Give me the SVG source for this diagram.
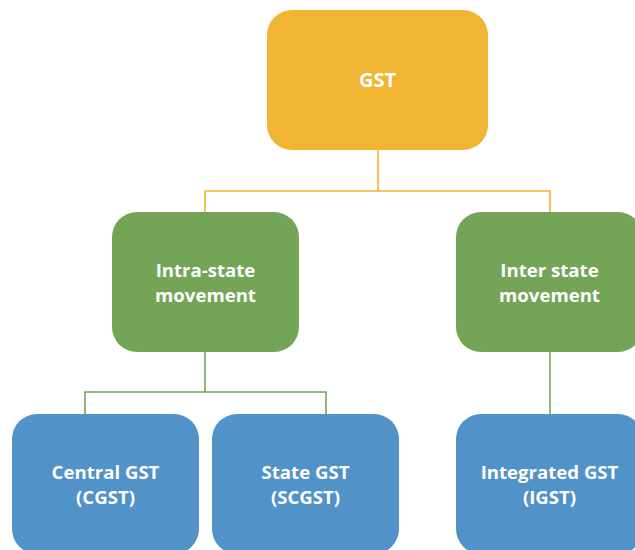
<svg xmlns="http://www.w3.org/2000/svg" width="635" height="550" viewBox="0 0 635 550">
  <style>
    .box { stroke: none; }
    .gst { fill: #F0B532; }
    .mv { fill: #74A557; }
    .tax { fill: #5192C8; }
    .lbl { font-family: "Open Sans", "Liberation Sans", sans-serif; font-weight: bold; font-size: 18.6px; fill: #FFFFFF; text-anchor: middle; }
    .lnk { fill: none; stroke-width: 1.6; }
    .lnk-o { stroke: #F0B532; }
    .lnk-g { stroke: #74A557; }
  </style>
  <rect width="635" height="550" fill="#FFFFFF"/>

  <!-- connectors -->
  <g id="connectors">
    <path class="lnk lnk-o" d="M378 150 V191 M205 212 V191 H550 V212"/>
    <path class="lnk lnk-g" d="M205 352 V392 M85 414 V392 H326 V414"/>
    <path class="lnk lnk-g" d="M550 352 V414"/>
  </g>

  <!-- top level -->
  <g id="gst">
    <rect class="box gst" x="267" y="10" width="221" height="140" rx="25"/>
    <text class="lbl" x="377.5" y="87" style="font-size:20px">GST</text>
  </g>

  <!-- movement types -->
  <g id="intra-state">
    <rect class="box mv" x="112" y="212" width="187" height="140" rx="25"/>
    <text class="lbl" x="205.5" y="276.5">Intra-state</text>
    <text class="lbl" x="205.5" y="301.5">movement</text>
  </g>
  <g id="inter-state">
    <rect class="box mv" x="456" y="212" width="187" height="140" rx="25"/>
    <text class="lbl" x="549.5" y="276.5">Inter state</text>
    <text class="lbl" x="549.5" y="301.5">movement</text>
  </g>

  <!-- tax components -->
  <g id="cgst">
    <rect class="box tax" x="12" y="414" width="187" height="140" rx="25"/>
    <text class="lbl" x="105.5" y="478.5">Central GST</text>
    <text class="lbl" x="105.5" y="503.5">(CGST)</text>
  </g>
  <g id="scgst">
    <rect class="box tax" x="212" y="414" width="187" height="140" rx="25"/>
    <text class="lbl" x="305.5" y="478.5">State GST</text>
    <text class="lbl" x="305.5" y="503.5">(SCGST)</text>
  </g>
  <g id="igst">
    <rect class="box tax" x="456" y="414" width="187" height="140" rx="25"/>
    <text class="lbl" x="549.5" y="478.5">Integrated GST</text>
    <text class="lbl" x="549.5" y="503.5">(IGST)</text>
  </g>
</svg>
